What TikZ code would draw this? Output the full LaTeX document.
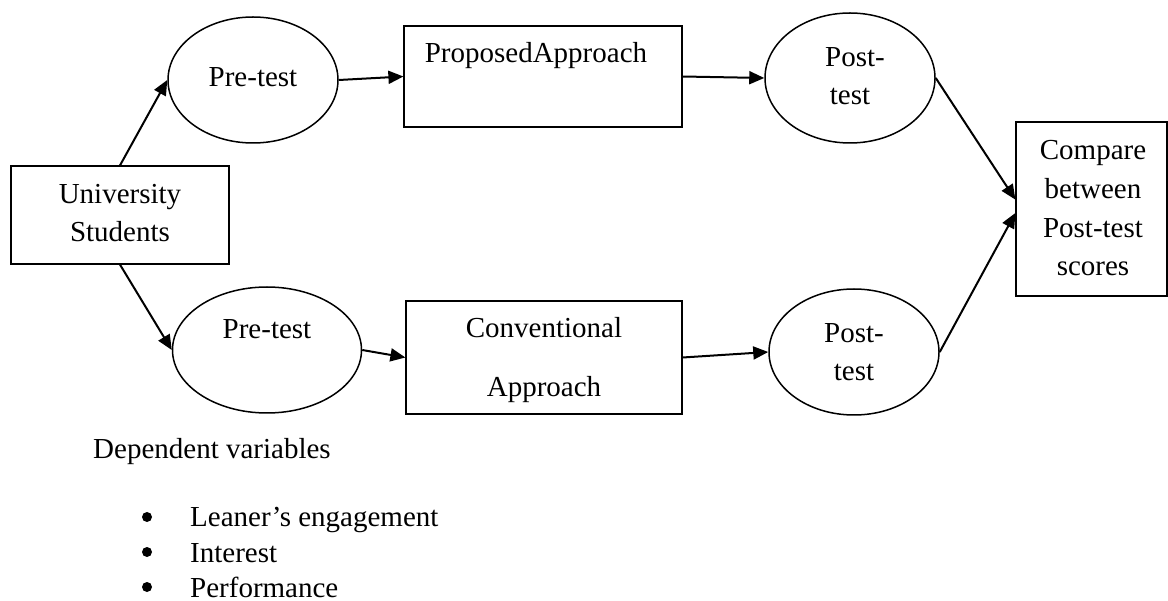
\documentclass[tikz,border=0pt]{standalone}
\usepackage{fontspec}
\setmainfont{Liberation Serif}
\usetikzlibrary{shapes.geometric,arrows.meta}
\begin{document}
\begin{tikzpicture}[x=1pt,y=-1pt,
  every node/.style={font=\fontsize{29}{39}\selectfont, inner sep=0pt},
  oval/.style={draw, ellipse, line width=1.5pt, inner sep=0pt},
  boxnode/.style={draw, rectangle, line width=1.2pt, inner sep=0pt},
  txt/.style={anchor=base},
  ltxt/.style={anchor=base west},
  dot/.style={circle, fill, minimum size=10pt, inner sep=0pt},
  conn/.style={line width=2pt, -{Triangle[length=15pt,width=13pt]}}
]
\useasboundingbox (0,0) rectangle (1168,601);

% shapes
\node[boxnode, minimum width=218pt, minimum height=98pt] (us) at (120,215) {};
\node[oval, minimum width=170pt, minimum height=126pt] (pre1) at (253,80) {};
\node[oval, minimum width=189pt, minimum height=126pt] (pre2) at (267,350) {};
\node[boxnode, minimum width=278pt, minimum height=101pt] (prop) at (543,76.5) {};
\node[boxnode, minimum width=276pt, minimum height=113pt] (conv) at (544,357.5) {};
\node[oval, minimum width=170pt, minimum height=130pt] (post1) at (850,78) {};
\node[oval, minimum width=170pt, minimum height=126pt] (post2) at (854,352) {};
\node[boxnode, minimum width=151pt, minimum height=174pt] (cmp) at (1091.5,209) {};

% texts
\node[txt] (us1) at (120,204) {University};
\node[txt] (us2) at (120,242) {Students};
\node[txt] (pre1t) at (253,87) {Pre-test};
\node[txt] (pre2t) at (267,339) {Pre-test};
\node[txt] (propt) at (536,63) {ProposedApproach};
\node[txt] (conv1) at (544,338) {Conventional};
\node[txt] (conv2) at (544,397) {Approach};
\node[txt] (post1a) at (855,67) {Post-};
\node[txt] (post1b) at (850,105) {test};
\node[txt] (post2a) at (854,343) {Post-};
\node[txt] (post2b) at (854,381) {test};
\node[txt] (cmp1) at (1093,160) {Compare};
\node[txt] (cmp2) at (1093,199) {between};
\node[txt] (cmp3) at (1093,238) {Post-test};
\node[txt] (cmp4) at (1093,276) {scores};

\node[ltxt] (dep) at (93,459) {Dependent variables};
\node[dot] (b1) at (147,517) {};
\node[dot] (b2) at (147,552) {};
\node[dot] (b3) at (147,587) {};
\node[ltxt] (l1) at (190,526) {Leaner’s engagement};
\node[ltxt] (l2) at (190,562) {Interest};
\node[ltxt] (l3) at (190,597) {Performance};

% connectors
\draw[conn] (us.north) -- (pre1.west);
\draw[conn] (us.south) -- (pre2.west);
\draw[conn] (pre1.east) -- (prop.west);
\draw[conn] (pre2.east) -- (conv.west);
\draw[conn] (prop.east) -- (post1.west);
\draw[conn] (conv.east) -- (post2.west);
\draw[conn] (post1.east) -- (cmp.173);
\draw[conn] (post2.east) -- (cmp.183);
\end{tikzpicture}
\end{document}
